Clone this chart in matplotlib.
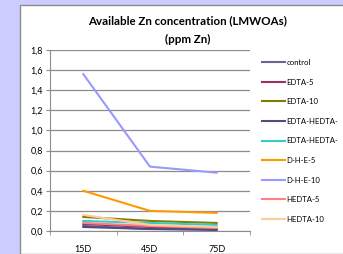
import matplotlib.pyplot as plt
from matplotlib.patches import Rectangle
from matplotlib.ticker import FixedLocator

plt.rcParams['font.family'] = ['Lato', 'DejaVu Sans']

days = ['15D', '45D', '75D']
series_names = ['control', 'EDTA-5', 'EDTA-10', 'EDTA-HEDTA-', 'EDTA-HEDTA-',
                'D-H-E-5', 'D-H-E-10', 'HEDTA-5', 'HEDTA-10']
control = [0.05, 0.02, 0.02]
edta5 = [0.07, 0.04, 0.03]
edta10 = [0.14, 0.10, 0.08]
edta_hedta5 = [0.04, 0.02, 0.01]
edta_hedta10 = [0.10, 0.08, 0.06]
dhe5 = [0.40, 0.20, 0.18]
dhe10 = [1.56, 0.64, 0.58]
hedta5 = [0.08, 0.05, 0.03]
hedta10 = [0.16, 0.06, 0.04]
colors = ['#666699', '#993366', '#808000', '#4d4d80', '#33cccc',
          '#ff9900', '#9999ff', '#ff8080', '#ffcc99']

values = [control, edta5, edta10, edta_hedta5, edta_hedta10, dhe5, dhe10, hedta5, hedta10]

fig = plt.figure(figsize=(3.43, 2.54), dpi=100)
fig.patch.set_facecolor('#ccccff')
fig.patches.append(Rectangle((20/343, 0), 330/343, 249/254, transform=fig.transFigure,
                             facecolor='white', edgecolor='#8c8c8c', lw=1.0, zorder=-10))

ax = fig.add_axes([50/343, 23/254, 200/343, 181/254])
ax.patch.set_alpha(0)
x = range(len(days))
for name, vals, c in zip(series_names, values, colors):
    ax.plot(x, vals, color=c, lw=1.5, label=name)

ax.set_xlim(-0.5, 2.5)
ax.set_ylim(0, 1.8)
ax.set_yticks([i * 0.2 for i in range(10)])
ax.set_yticklabels([('%.1f' % (i * 0.2)).replace('.', ',') for i in range(10)], fontsize=6.5)
ax.set_xticks(list(x))
ax.set_xticklabels(days, fontsize=6.5)
ax.tick_params(axis='x', length=0, pad=10)
ax.xaxis.set_minor_locator(FixedLocator([-0.5, 0.5, 1.5, 2.5]))
ax.tick_params(axis='x', which='minor', length=3, color='#8c8c8c')
ax.tick_params(axis='y', length=3, color='#8c8c8c', pad=2)
ax.grid(axis='y', color='#8c8c8c', lw=0.9)
ax.set_axisbelow(True)
for s in ['top', 'right']:
    ax.spines[s].set_visible(False)
for s in ['left', 'bottom']:
    ax.spines[s].set_color('#8c8c8c')

fig.text(188/343, 1 - 21/254, 'Available Zn concentration (LMWOAs)', ha='center', va='center',
         fontsize=8.3, fontweight='bold')
fig.text(188/343, 1 - 39/254, '(ppm Zn)', ha='center', va='center', fontsize=8.3, fontweight='bold')

ax.legend(loc='upper left', bbox_to_anchor=(262/343, 1 - 59/254), bbox_transform=fig.transFigure,
          frameon=False, fontsize=5.6, handlelength=3.0, handletextpad=0.15, labelspacing=1.62,
          borderaxespad=0, borderpad=0)

fig.savefig('out.png', dpi=100, facecolor=fig.get_facecolor())
